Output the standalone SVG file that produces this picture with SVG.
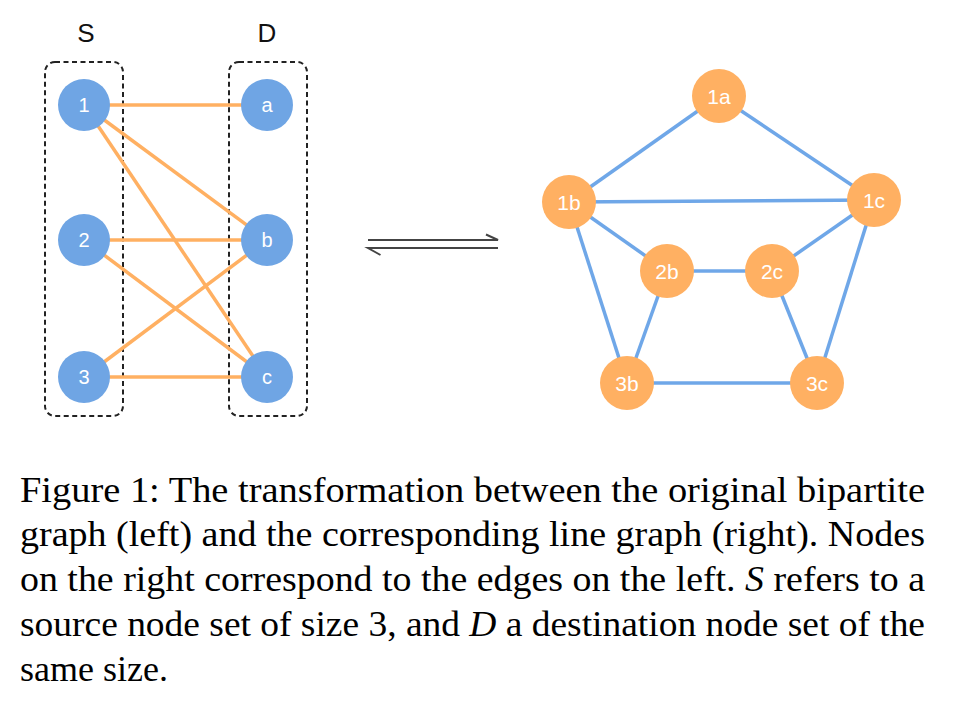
<svg xmlns="http://www.w3.org/2000/svg" width="966" height="704" viewBox="0 0 966 704">
<style>
  .set { fill: none; stroke: #222; stroke-width: 2; stroke-dasharray: 5 3.5; }
  .setlab { font-family: "Liberation Sans", Arial, sans-serif; font-size: 26px; fill: #111; text-anchor: middle; }
  .bn { fill: #6FA5E4; }
  .on { fill: #FFB062; }
  .nl { font-family: "Liberation Sans", Arial, sans-serif; font-size: 20px; fill: #fff; text-anchor: middle; dominant-baseline: central; }
  .ol { font-size: 21px; }
  .oe { stroke: #FFB062; stroke-width: 3.5; fill: none; }
  .be { stroke: #6FA7E8; stroke-width: 3.5; fill: none; }
  .arr { stroke: #444; stroke-width: 2; fill: none; stroke-linecap: butt; }
  .cap { font-family: "Liberation Serif", "Times New Roman", serif; font-size: 36px; fill: #000; }
</style>
<rect width="966" height="704" fill="#fff"/>

<!-- set boxes -->
<g id="setS">
  <rect class="set" x="45" y="62" width="78" height="354" rx="10"/>
  <text class="setlab" x="86" y="42">S</text>
</g>
<g id="setD">
  <rect class="set" x="229" y="62" width="78" height="354" rx="10"/>
  <text class="setlab" x="267" y="42">D</text>
</g>

<!-- connectors -->
<g id="connectors">
  <line class="oe" x1="84" y1="105" x2="267" y2="105"/>
  <line class="oe" x1="84" y1="105" x2="267" y2="240"/>
  <line class="oe" x1="84" y1="105" x2="267" y2="377"/>
  <line class="oe" x1="84" y1="240" x2="267" y2="240"/>
  <line class="oe" x1="84" y1="240" x2="267" y2="377"/>
  <line class="oe" x1="84" y1="377" x2="267" y2="240"/>
  <line class="oe" x1="84" y1="377" x2="267" y2="377"/>

  <line class="be" x1="719" y1="96" x2="569" y2="202"/>
  <line class="be" x1="719" y1="96" x2="874" y2="200"/>
  <line class="be" x1="569" y1="202" x2="874" y2="200"/>
  <line class="be" x1="569" y1="202" x2="667" y2="271"/>
  <line class="be" x1="569" y1="202" x2="627" y2="383"/>
  <line class="be" x1="874" y1="200" x2="772" y2="271"/>
  <line class="be" x1="874" y1="200" x2="817" y2="383"/>
  <line class="be" x1="667" y1="271" x2="772" y2="271"/>
  <line class="be" x1="667" y1="271" x2="627" y2="383"/>
  <line class="be" x1="772" y1="271" x2="817" y2="383"/>
  <line class="be" x1="627" y1="383" x2="817" y2="383"/>

  <g id="equilibrium">
    <path class="arr" d="M368 240 H498 L486 234.5"/>
    <path class="arr" d="M498 248 H368 L380.5 255"/>
  </g>
</g>

<!-- left nodes -->
<g id="n1"><circle class="bn" cx="84" cy="105" r="26"/><text class="nl" x="84" y="105">1</text></g>
<g id="n2"><circle class="bn" cx="84" cy="240" r="26"/><text class="nl" x="84" y="240">2</text></g>
<g id="n3"><circle class="bn" cx="84" cy="377" r="26"/><text class="nl" x="84" y="377">3</text></g>
<g id="na"><circle class="bn" cx="267" cy="105" r="26"/><text class="nl" x="267" y="105">a</text></g>
<g id="nb"><circle class="bn" cx="267" cy="240" r="26"/><text class="nl" x="267" y="240">b</text></g>
<g id="nc"><circle class="bn" cx="267" cy="377" r="26"/><text class="nl" x="267" y="377">c</text></g>

<!-- right nodes -->
<g id="n1a"><circle class="on" cx="719" cy="96" r="27"/><text class="nl ol" x="719" y="96">1a</text></g>
<g id="n1b"><circle class="on" cx="569" cy="202" r="27"/><text class="nl ol" x="569" y="202">1b</text></g>
<g id="n1c"><circle class="on" cx="874" cy="200" r="27"/><text class="nl ol" x="874" y="200">1c</text></g>
<g id="n2b"><circle class="on" cx="667" cy="271" r="27"/><text class="nl ol" x="667" y="271">2b</text></g>
<g id="n2c"><circle class="on" cx="772" cy="271" r="27"/><text class="nl ol" x="772" y="271">2c</text></g>
<g id="n3b"><circle class="on" cx="627" cy="383" r="27"/><text class="nl ol" x="627" y="383">3b</text></g>
<g id="n3c"><circle class="on" cx="817" cy="383" r="27"/><text class="nl ol" x="817" y="383">3c</text></g>

<!-- caption -->
<g id="caption">
  <text class="cap" x="20" y="502" textLength="905" lengthAdjust="spacingAndGlyphs">Figure 1: The transformation between the original bipartite</text>
  <text class="cap" x="20" y="546" textLength="905" lengthAdjust="spacingAndGlyphs">graph (left) and the corresponding line graph (right). Nodes</text>
  <text class="cap" x="20" y="591" textLength="905" lengthAdjust="spacingAndGlyphs">on the right correspond to the edges on the left. <tspan font-style="italic">S</tspan> refers to a</text>
  <text class="cap" x="20" y="636" textLength="905" lengthAdjust="spacingAndGlyphs">source node set of size 3, and <tspan font-style="italic">D</tspan> a destination node set of the</text>
  <text class="cap" x="20" y="681">same size.</text>
</g>
</svg>
